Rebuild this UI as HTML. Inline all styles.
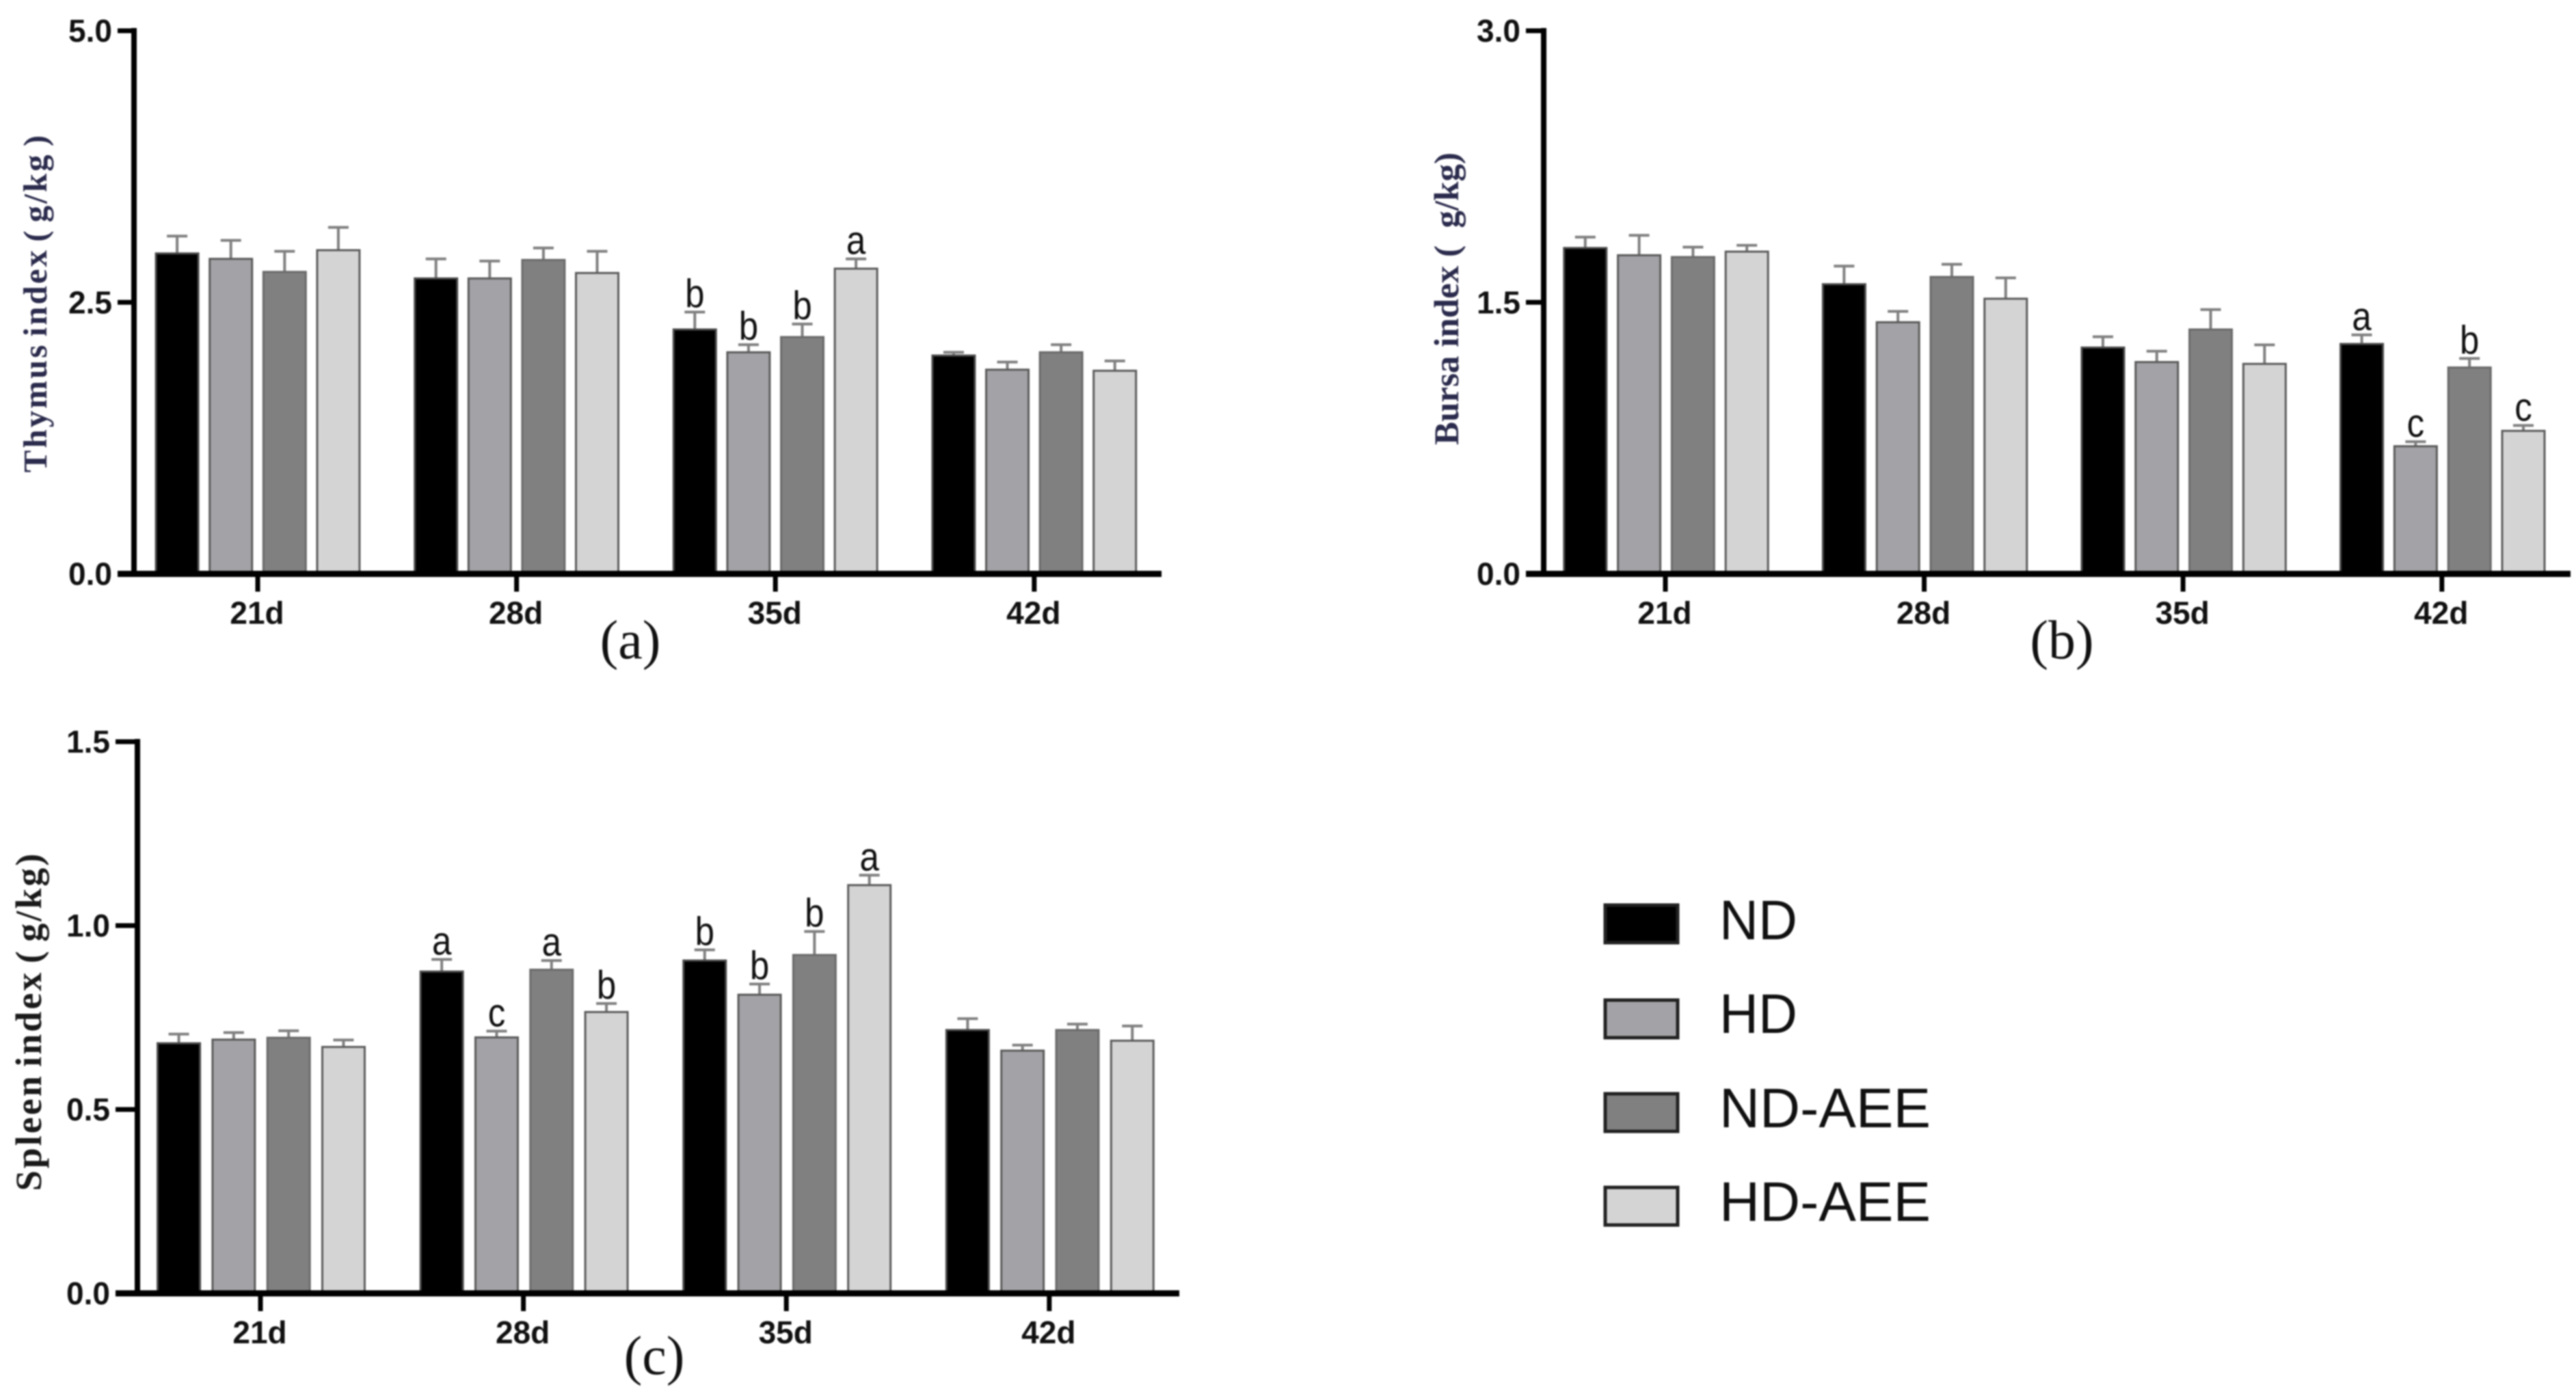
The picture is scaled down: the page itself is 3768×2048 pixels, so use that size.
<!DOCTYPE html>
<html lang="en">
<head>
<meta charset="utf-8">
<title>Immune organ indices by day and treatment</title>
<style>
html,body{margin:0;padding:0;background:#fff;width:3768px;height:2048px;overflow:hidden}
svg{display:block;filter:blur(1px)}
.tick{font-family:"Liberation Sans",sans-serif;font-weight:700;font-size:46px;fill:#111}
.sig{font-family:"Liberation Sans",sans-serif;font-size:51px;fill:#111}
.ytitle{font-family:"Liberation Serif",serif;font-weight:700;white-space:pre}
.cap{font-family:"Liberation Serif",serif;font-size:80px;fill:#111}
.leg{font-family:"Liberation Sans",sans-serif;font-size:82px;fill:#111}
</style>
</head>
<body>
<svg id="figure" xmlns="http://www.w3.org/2000/svg" width="3768" height="2048" viewBox="0 0 3768 2048">
  <rect x="0" y="0" width="3768" height="2048" fill="#fff"/>
  <g id="panels"></g>
  <g>
    <g>
      <rect x="2348" y="1324" width="106" height="55" fill="#000" stroke="#222" stroke-width="5"/>
      <text class="leg" x="2515" y="1374" textLength="114" lengthAdjust="spacingAndGlyphs">ND</text>
    </g>
    <g>
      <rect x="2348" y="1463" width="106" height="55" fill="#a3a3a7" stroke="#222" stroke-width="5"/>
      <text class="leg" x="2515" y="1511" textLength="114" lengthAdjust="spacingAndGlyphs">HD</text>
    </g>
    <g>
      <rect x="2348" y="1600" width="106" height="55" fill="#808080" stroke="#222" stroke-width="5"/>
      <text class="leg" x="2515" y="1649" textLength="309" lengthAdjust="spacingAndGlyphs">ND-AEE</text>
    </g>
    <g>
      <rect x="2348" y="1737" width="106" height="55" fill="#d4d4d4" stroke="#222" stroke-width="5"/>
      <text class="leg" x="2515" y="1786" textLength="309" lengthAdjust="spacingAndGlyphs">HD-AEE</text>
    </g>
  </g>
</svg>
<script>
const categories = ["21d", "28d", "35d", "42d"];
const seriesNames = ["ND", "HD", "ND-AEE", "HD-AEE"];

const thymusTicks = ["0.0", "2.5", "5.0"];
const thymusND = [2.95, 2.72, 2.25, 2.01];
const thymusHD = [2.90, 2.72, 2.04, 1.88];
const thymusNDAEE = [2.78, 2.89, 2.18, 2.04];
const thymusHDAEE = [2.98, 2.77, 2.81, 1.87];
const thymusErrND = [0.16, 0.18, 0.16, 0.03];
const thymusErrHD = [0.17, 0.16, 0.07, 0.07];
const thymusErrNDAEE = [0.19, 0.11, 0.12, 0.07];
const thymusErrHDAEE = [0.21, 0.20, 0.09, 0.09];
const thymusLetters = [[], [], ["b", "b", "b", "a"], []];

const bursaTicks = ["0.0", "1.5", "3.0"];
const bursaND = [1.80, 1.60, 1.25, 1.27];
const bursaHD = [1.76, 1.39, 1.17, 0.705];
const bursaNDAEE = [1.75, 1.64, 1.35, 1.14];
const bursaHDAEE = [1.78, 1.52, 1.16, 0.79];
const bursaErrND = [0.06, 0.10, 0.06, 0.05];
const bursaErrHD = [0.11, 0.06, 0.06, 0.025];
const bursaErrNDAEE = [0.055, 0.07, 0.11, 0.05];
const bursaErrHDAEE = [0.035, 0.115, 0.105, 0.03];
const bursaLetters = [[], [], [], ["a", "c", "b", "c"]];

const spleenTicks = ["0.0", "0.5", "1.0", "1.5"];
const spleenND = [0.680, 0.875, 0.905, 0.716];
const spleenHD = [0.690, 0.696, 0.812, 0.660];
const spleenNDAEE = [0.695, 0.880, 0.920, 0.716];
const spleenHDAEE = [0.670, 0.765, 1.110, 0.687];
const spleenErrND = [0.025, 0.033, 0.029, 0.031];
const spleenErrHD = [0.019, 0.017, 0.029, 0.015];
const spleenErrNDAEE = [0.019, 0.025, 0.064, 0.016];
const spleenErrHDAEE = [0.019, 0.023, 0.027, 0.040];
const spleenLetters = [[], ["a", "c", "a", "b"], ["b", "b", "b", "a"], []];

const NS = "http://www.w3.org/2000/svg";
const barFills = ["#000000", "#a3a3a7", "#808080", "#d4d4d4"];
const barStrokes = ["#4a4a4a", "#5a5a5a", "#6a6a6a", "#5c5c5c"];

function el(parent, tag, attrs, text) {
  const n = document.createElementNS(NS, tag);
  for (const k in attrs) n.setAttribute(k, attrs[k]);
  if (text !== undefined) n.textContent = text;
  parent.appendChild(n);
  return n;
}

function drawPanel(cfg) {
  const root = document.getElementById("panels");
  const g = el(root, "g", {});
  
  

  const maxV = Number(cfg.ticks[cfg.ticks.length - 1]);
  const yScale = v => cfg.y0 - v * (cfg.y0 - cfg.yTop) / maxV;
  const tickX = i => cfg.x0 + i * cfg.groupStep;
  const barX = (i, s) => tickX(i) + cfg.barShift + (s - 1.5) * cfg.barStep;

  cfg.means.forEach((vals, s) => {
    const sg = el(g, "g", {});
    
    
    vals.forEach((v, i) => {
      const cx = barX(i, s);
      const top = yScale(v);
      const errTop = yScale(v + cfg.errs[s][i]);
      const stem = el(sg, "line", {x1: cx, x2: cx, y1: top, y2: errTop, stroke: "#808080", "stroke-width": 4});
      
      
      const cap = el(sg, "line", {x1: cx - 15, x2: cx + 15, y1: errTop, y2: errTop, stroke: "#808080", "stroke-width": 4});
      
      
      const bar = el(sg, "rect", {x: cx - cfg.barW / 2, y: top, width: cfg.barW, height: cfg.y0 - top, fill: barFills[s], stroke: barStrokes[s], "stroke-width": 3});
      
      
      const letter = cfg.letters[i][s];
      if (letter) {
        const lab = el(g, "text", {class: "sig", "text-anchor": "middle",
          transform: "translate(" + cx + "," + (errTop - 7) + ") scale(1,1.15)"}, letter);
        
        
      }
    });
  });

  const yAxis = el(g, "line", {x1: cfg.axisX, x2: cfg.axisX, y1: cfg.yTop - 4, y2: cfg.y0, stroke: "#000", "stroke-width": 8});
  
  
  const xAxis = el(g, "line", {x1: cfg.axisLeft, x2: cfg.axisRight, y1: cfg.y0, y2: cfg.y0, stroke: "#000", "stroke-width": 9});
  
  

  cfg.ticks.forEach(label => {
    const y = yScale(Number(label));
    if (Number(label) !== 0) {
      const t = el(g, "line", {x1: cfg.axisLeft, x2: cfg.axisX, y1: y, y2: y, stroke: "#000", "stroke-width": 7});
      
      
    }
    const lab = el(g, "text", {class: "tick", x: cfg.axisLeft - 8, y: y + 16, "text-anchor": "end"}, label);
    
    
  });

  categories.forEach((c, i) => {
    const x = tickX(i);
    const t = el(g, "line", {x1: x, x2: x, y1: cfg.y0, y2: cfg.y0 + 26, stroke: "#000", "stroke-width": 7});
    
    
    const lab = el(g, "text", {class: "tick", x: x - 1, y: cfg.y0 + 73, "text-anchor": "middle"}, c);
    
    
  });

  const title = el(g, "text", {
    class: "ytitle",
    transform: "translate(" + cfg.titleX + "," + cfg.titleY + ") rotate(-90)",
    "text-anchor": "middle",
    fill: cfg.titleColor,
    style: "font-size:" + cfg.titleSize + "px;letter-spacing:" + cfg.titleLs + "px;word-spacing:" + cfg.titleWs + "px"
  }, cfg.title);
  
  

  const cap = el(g, "text", {class: "cap", x: cfg.capX, y: cfg.capY, "text-anchor": "middle"}, cfg.caption);
  
  
}

drawPanel({
  key: "thymus", ticks: thymusTicks,
  means: [thymusND, thymusHD, thymusNDAEE, thymusHDAEE],
  errs: [thymusErrND, thymusErrHD, thymusErrNDAEE, thymusErrHDAEE],
  letters: thymusLetters,
  y0: 839.5, yTop: 45, x0: 377, groupStep: 378.6, barStep: 78.6, barW: 62, barShift: 0,
  axisX: 196, axisLeft: 172, axisRight: 1699,
  title: "Thymus index ( g/kg )", titleX: 68, titleY: 443, titleSize: 49, titleLs: 3, titleWs: -6, titleColor: "#2b2b4d",
  caption: "(a)", capX: 922, capY: 963
});
drawPanel({
  key: "bursa", ticks: bursaTicks,
  means: [bursaND, bursaHD, bursaNDAEE, bursaHDAEE],
  errs: [bursaErrND, bursaErrHD, bursaErrNDAEE, bursaErrHDAEE],
  letters: bursaLetters,
  y0: 839.5, yTop: 45, x0: 2436, groupStep: 378.6, barStep: 78.8, barW: 62, barShift: 1,
  axisX: 2258, axisLeft: 2232, axisRight: 3760,
  title: "Bursa index (  g/kg)", titleX: 2133, titleY: 437, titleSize: 51, titleLs: 0, titleWs: 0, titleColor: "#2b2b4d",
  caption: "(b)", capX: 3016, capY: 963
});
drawPanel({
  key: "spleen", ticks: spleenTicks,
  means: [spleenND, spleenHD, spleenNDAEE, spleenHDAEE],
  errs: [spleenErrND, spleenErrHD, spleenErrNDAEE, spleenErrHDAEE],
  letters: spleenLetters,
  y0: 1892, yTop: 1085, x0: 381, groupStep: 384.6, barStep: 80.3, barW: 62, barShift: 1,
  axisX: 201, axisLeft: 169, axisRight: 1725,
  title: "Spleen index ( g/kg)", titleX: 60, titleY: 1494, titleSize: 54, titleLs: 3, titleWs: -6, titleColor: "#1a1a1a",
  caption: "(c)", capX: 957, capY: 2010
});
</script>
</body>
</html>
